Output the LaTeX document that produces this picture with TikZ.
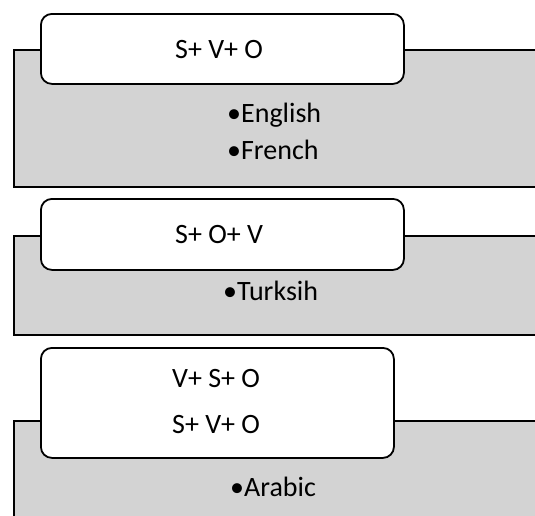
\documentclass[tikz,border=0pt]{standalone}
\usepackage{fontspec}
\setmainfont{Carlito}
\definecolor{panelgray}{RGB}{211,211,211}
\begin{document}
\begin{tikzpicture}[x=1pt,y=-1pt,
  panel/.style={draw=black, line width=1.8pt, fill=panelgray, anchor=north west, inner sep=0pt},
  tagbox/.style={draw=black, line width=1.8pt, fill=white, rounded corners=11pt, anchor=north west, inner sep=0pt},
  txt/.style={font=\fontsize{28}{34}\selectfont, inner sep=0pt, anchor=base west}]
\useasboundingbox (0,0) rectangle (535,515);
\clip (0,0) rectangle (535,515);
% block 1
\node[panel, minimum width=600pt, minimum height=137pt] (p1) at (13,49) {};
\node[tagbox, minimum width=363pt, minimum height=70pt] (b1) at (40,13) {};
\node[txt] (t1) at (175,58) {S+ V+ O};
\node[txt] (l1a) at (227,122) {•English};
\node[txt] (l1b) at (227,159) {•French};
% block 2
\node[panel, minimum width=600pt, minimum height=99pt] (p2) at (13,235) {};
\node[tagbox, minimum width=363pt, minimum height=71pt] (b2) at (40,198) {};
\node[txt] (t2) at (175,243) {S+ O+ V};
\node[txt] (l2a) at (223,300) {•Turksih};
% block 3
\node[panel, minimum width=600pt, minimum height=120pt] (p3) at (13,420) {};
\node[tagbox, minimum width=353pt, minimum height=110pt] (b3) at (40,347) {};
\node[txt] (t3a) at (172,387) {V+ S+ O};
\node[txt] (t3b) at (172,433) {S+ V+ O};
\node[txt] (l3a) at (230,496) {•Arabic};
\end{tikzpicture}
\end{document}
